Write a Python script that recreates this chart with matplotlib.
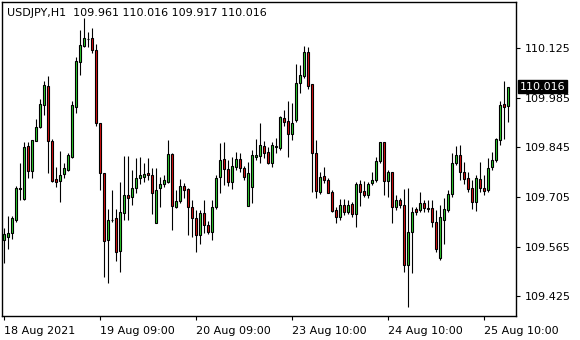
import matplotlib
matplotlib.use("Agg")
import matplotlib.pyplot as plt
import numpy as np

symbol = "USDJPY,H1"

opens = [109.584, 109.592, 109.603, 109.640, 109.730, 109.699, 109.849, 109.778, 109.863, 109.903,
         109.965, 110.018, 109.863, 109.756, 109.750, 109.770, 109.781, 109.818, 109.959, 110.086,
         110.131, 110.151, 110.154, 110.120, 109.914, 109.773, 109.584, 109.640, 109.646, 109.553,
         109.660, 109.711, 109.705, 109.730, 109.759, 109.761, 109.773, 109.767, 109.632, 109.730,
         109.742, 109.747, 109.826, 109.677, 109.694, 109.736, 109.728, 109.677, 109.646, 109.598,
         109.660, 109.626, 109.606, 109.677, 109.761, 109.812, 109.784, 109.747, 109.790, 109.812,
         109.787, 109.680, 109.733, 109.818, 109.821, 109.849, 109.832, 109.801, 109.846, 109.843,
         109.928, 109.919, 109.883, 109.922, 110.027, 110.046, 110.114, 110.024, 109.829, 109.719,
         109.764, 109.753, 109.719, 109.668, 109.649, 109.682, 109.663, 109.685, 109.657, 109.742,
         109.722, 109.711, 109.745, 109.753, 109.807, 109.860, 109.750, 109.776, 109.677, 109.696,
         109.682, 109.513, 109.606, 109.671, 109.668, 109.688, 109.674, 109.674, 109.635, 109.533,
         109.640, 109.668, 109.713, 109.801, 109.823, 109.776, 109.759, 109.730, 109.691, 109.756,
         109.730, 109.725, 109.790, 109.809, 109.866, 109.967, 109.961]
highs = [109.618, 109.651, 109.651, 109.736, 109.801, 109.860, 109.860, 109.866, 109.925, 109.982,
         110.032, 110.046, 109.869, 109.790, 109.835, 109.801, 109.829, 109.976, 110.100, 110.176,
         110.210, 110.171, 110.182, 110.137, 109.914, 109.773, 109.671, 109.725, 109.671, 109.747,
         109.821, 109.821, 109.781, 109.815, 109.818, 109.801, 109.815, 109.787, 109.787, 109.761,
         109.767, 109.866, 109.829, 109.725, 109.756, 109.745, 109.730, 109.696, 109.668, 109.668,
         109.696, 109.637, 109.696, 109.767, 109.857, 109.860, 109.809, 109.818, 109.832, 109.829,
         109.792, 109.804, 109.838, 109.869, 109.914, 109.863, 109.846, 109.860, 109.872, 109.934,
         109.951, 109.976, 109.970, 110.080, 110.078, 110.131, 110.128, 110.024, 109.866, 109.776,
         109.790, 109.759, 109.725, 109.677, 109.699, 109.699, 109.696, 109.691, 109.747, 109.753,
         109.750, 109.747, 109.776, 109.818, 109.860, 109.860, 109.781, 109.776, 109.711, 109.702,
         109.728, 109.730, 109.677, 109.677, 109.719, 109.696, 109.696, 109.696, 109.668, 109.682,
         109.702, 109.725, 109.829, 109.849, 109.852, 109.804, 109.776, 109.753, 109.767, 109.804,
         109.767, 109.815, 109.832, 109.872, 109.976, 110.032, 110.016]
lows = [109.519, 109.558, 109.586, 109.635, 109.696, 109.696, 109.759, 109.759, 109.863, 109.900,
        109.936, 109.773, 109.747, 109.733, 109.691, 109.759, 109.778, 109.815, 109.942, 110.049,
        110.128, 110.128, 110.111, 109.905, 109.725, 109.479, 109.462, 109.635, 109.524, 109.493,
        109.640, 109.640, 109.682, 109.716, 109.742, 109.747, 109.753, 109.657, 109.632, 109.677,
        109.733, 109.745, 109.612, 109.674, 109.688, 109.702, 109.598, 109.592, 109.550, 109.572,
        109.603, 109.601, 109.584, 109.671, 109.716, 109.739, 109.736, 109.728, 109.781, 109.776,
        109.753, 109.680, 109.688, 109.809, 109.801, 109.815, 109.798, 109.790, 109.829, 109.838,
        109.905, 109.818, 109.866, 109.917, 109.999, 110.041, 110.010, 109.719, 109.702, 109.713,
        109.745, 109.716, 109.663, 109.632, 109.640, 109.654, 109.657, 109.649, 109.620, 109.680,
        109.705, 109.702, 109.739, 109.747, 109.801, 109.711, 109.705, 109.632, 109.668, 109.674,
        109.493, 109.395, 109.490, 109.654, 109.663, 109.663, 109.663, 109.620, 109.550, 109.527,
        109.572, 109.663, 109.705, 109.795, 109.753, 109.742, 109.719, 109.671, 109.666, 109.719,
        109.711, 109.719, 109.781, 109.804, 109.852, 109.869, 109.917]
closes = [109.601, 109.603, 109.646, 109.730, 109.728, 109.846, 109.778, 109.866, 109.903, 109.967,
          110.021, 109.863, 109.750, 109.747, 109.767, 109.787, 109.823, 109.965, 110.089, 110.134,
          110.154, 110.151, 110.120, 109.914, 109.773, 109.581, 109.640, 109.640, 109.550, 109.663,
          109.711, 109.702, 109.730, 109.759, 109.767, 109.770, 109.767, 109.716, 109.725, 109.742,
          109.753, 109.826, 109.680, 109.694, 109.736, 109.725, 109.677, 109.646, 109.598, 109.660,
          109.626, 109.606, 109.677, 109.759, 109.809, 109.784, 109.747, 109.792, 109.812, 109.787,
          109.761, 109.773, 109.823, 109.823, 109.852, 109.829, 109.801, 109.852, 109.849, 109.931,
          109.917, 109.883, 109.914, 110.027, 110.049, 110.114, 110.018, 109.829, 109.722, 109.761,
          109.753, 109.716, 109.666, 109.649, 109.682, 109.663, 109.682, 109.657, 109.742, 109.719,
          109.711, 109.742, 109.753, 109.807, 109.860, 109.750, 109.776, 109.677, 109.696, 109.682,
          109.513, 109.606, 109.663, 109.663, 109.688, 109.674, 109.671, 109.635, 109.558, 109.649,
          109.671, 109.713, 109.801, 109.823, 109.776, 109.756, 109.728, 109.691, 109.759, 109.730,
          109.722, 109.787, 109.809, 109.869, 109.965, 109.959, 110.016]

price_ticks = [110.125, 109.985, 109.845, 109.705, 109.565, 109.425]
date_ticks = [0, 24, 48, 72, 96, 120]
date_labels = ["18 Aug 2021", "19 Aug 09:00", "20 Aug 09:00", "23 Aug 10:00",
               "24 Aug 10:00", "25 Aug 10:00"]

bull_color = "#2fd12f"
bear_color = "#dd1111"

o = np.array(opens)
h = np.array(highs)
l = np.array(lows)
c = np.array(closes)
idx = np.arange(len(o))

fig = plt.figure(figsize=(5.8, 3.4), dpi=100)
ax = fig.add_axes([2 / 580, 24 / 340, 514 / 580, 314 / 340])

ax.vlines(idx, l, h, color="black", linewidth=0.8, zorder=2)
colors = [bull_color if cc >= oo else bear_color for oo, cc in zip(o, c)]
ax.bar(idx, np.abs(c - o), bottom=np.minimum(o, c), width=0.5, color=colors,
       edgecolor="black", linewidth=0.8, zorder=3)

ax.set_xlim(-0.375, 128.125)
ax.set_ylim(109.3691, 110.2554)

ax.yaxis.tick_right()
ax.set_yticks(price_ticks)
ax.set_yticklabels([f"{p:.3f}" for p in price_ticks])
ax.set_xticks(date_ticks)
ax.set_xticklabels(date_labels, ha="left")
ax.tick_params(axis="both", length=3, width=0.8, labelsize=8, colors="black", pad=3)
ax.tick_params(axis="x", pad=4)
for s in ax.spines.values():
    s.set_linewidth(1.0)

ax.text(5 / 514, 1 - 11 / 314, f"{symbol}  {o[-1]:.3f} {h[-1]:.3f} {l[-1]:.3f} {c[-1]:.3f}",
        transform=ax.transAxes, fontsize=8, va="center", ha="left")

ax.annotate(f"{c[-1]:.3f}", xy=(1.0, c[-1]), xycoords=("axes fraction", "data"),
            xytext=(4, 0), textcoords="offset pixels", ha="left", va="center",
            fontsize=8, color="white", annotation_clip=False, zorder=10,
            bbox=dict(boxstyle="square,pad=0.15", fc="black", ec="black"))

fig.savefig("out.png", dpi=100)
